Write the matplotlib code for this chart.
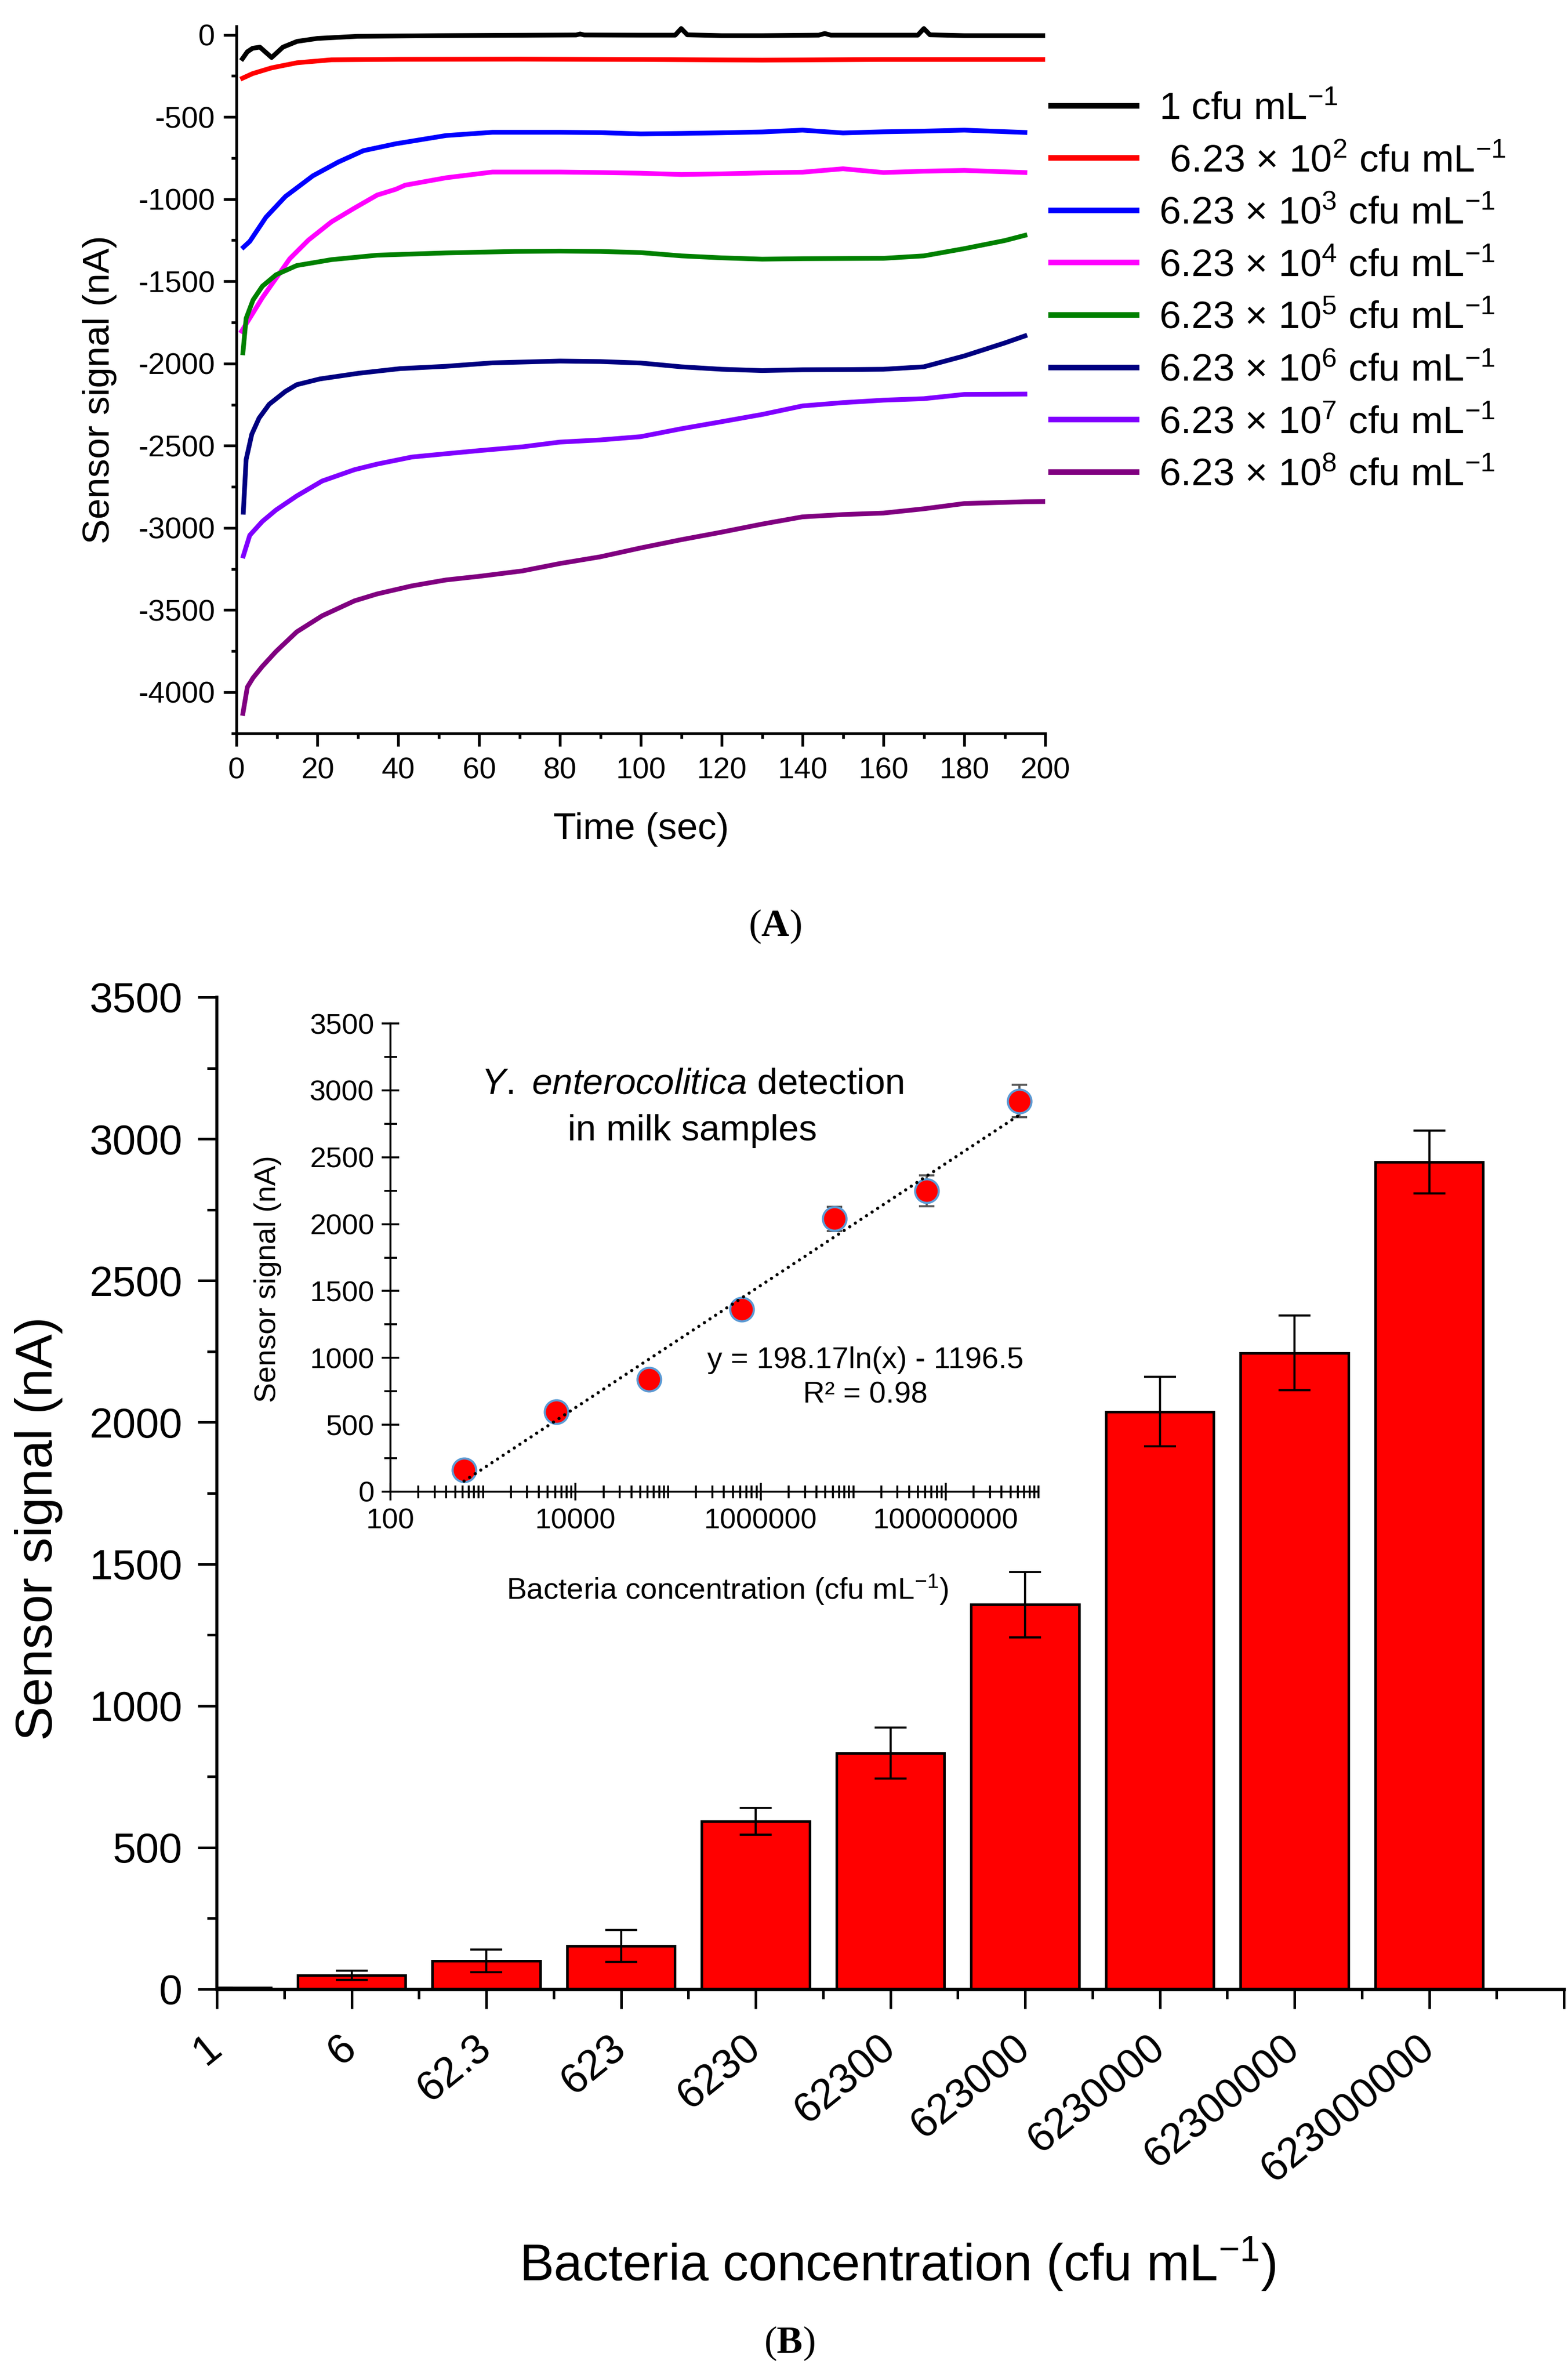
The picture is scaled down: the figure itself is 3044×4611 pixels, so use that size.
import numpy as np
import matplotlib
matplotlib.use('Agg')
import matplotlib.pyplot as plt
from matplotlib.lines import Line2D
from matplotlib.ticker import MultipleLocator, FixedLocator, LogLocator, NullFormatter, FuncFormatter

plt.rcParams['font.family'] = ['Liberation Sans', 'DejaVu Sans']
plt.rcParams['axes.unicode_minus'] = False
plt.rcParams['mathtext.fontset'] = 'custom'
plt.rcParams['mathtext.rm'] = 'Liberation Sans'
plt.rcParams['mathtext.it'] = 'Liberation Sans:italic'
plt.rcParams['mathtext.bf'] = 'Liberation Serif:bold'

# --- datos panel A: señal vs tiempo ------------------------------------------
t_1 = [1.5, 2.7, 4, 5.8, 8.7, 11.5, 15, 20, 30, 50, 84, 85, 86, 100, 108.5, 110, 111.5,
       120, 130, 144, 145.5, 147, 160, 168.5, 170, 171.5, 180, 200]
s_1 = [-145, -103, -82, -75, -138, -75, -40, -22, -9, -5, -1, 5, -1, -2, -2, 38, 0,
       -5, -5, -2, 8, -2, -2, -2, 38, 0, -5, -5]

t_2 = [1.5, 4, 8.7, 15, 23.5, 40, 70, 100, 130, 160, 200]
s_2 = [-264, -236, -201, -170, -152, -149, -148, -150, -154, -150, -150]

t_3 = [1.75, 3.3, 7.3, 12.1, 18.9, 25.2, 31.4, 39.4, 51.8, 63.3, 80, 90, 100, 110, 120,
       130, 140, 150, 160, 170, 180, 195]
s_3 = [-1292, -1257, -1110, -984, -858, -774, -705, -663, -613, -593, -593, -595, -603,
       -600, -596, -591, -580, -597, -590, -586, -580, -594]

t_4 = [1.3, 3.6, 6.4, 9.8, 13.2, 17.8, 23.5, 29.2, 34.8, 39.4, 41.7, 51.8, 63.3, 80, 90,
       100, 110, 120, 130, 140, 150, 160, 170, 180, 195]
s_4 = [-1803, -1712, -1600, -1481, -1362, -1249, -1138, -1054, -975, -940, -915, -870,
       -835, -835, -838, -842, -850, -846, -840, -836, -815, -838, -830, -825, -838]

t_5 = [1.6, 2.4, 4.1, 6.4, 9.8, 14.9, 23.5, 34.8, 51.8, 68.9, 80, 90, 100, 110, 120, 130,
       140, 150, 160, 170, 180, 190, 195]
s_5 = [-1935, -1725, -1614, -1530, -1460, -1404, -1368, -1341, -1327, -1318, -1316, -1318,
       -1325, -1345, -1357, -1365, -1362, -1361, -1360, -1345, -1301, -1252, -1220]

t_6 = [1.7, 2.4, 3.8, 5.6, 8.1, 12.1, 14.9, 20.6, 30.3, 40.5, 51.8, 63.3, 80, 90, 100,
       110, 120, 130, 140, 150, 160, 170, 180, 190, 195]
s_6 = [-2905, -2584, -2430, -2332, -2248, -2170, -2129, -2094, -2059, -2031, -2017, -1996,
       -1985, -1988, -1997, -2020, -2035, -2043, -2038, -2037, -2035, -2020, -1954, -1875, -1832]

t_7 = [1.7, 3.3, 6.4, 9.8, 14.9, 21.2, 29.2, 34.8, 43.4, 51.8, 60, 70.7, 80, 90, 100, 110,
       120, 130, 140, 150, 160, 170, 180, 195]
s_7 = [-3171, -3045, -2961, -2891, -2806, -2715, -2646, -2612, -2569, -2549, -2530, -2507,
       -2478, -2465, -2445, -2397, -2354, -2310, -2258, -2238, -2223, -2214, -2188, -2186]

t_8 = [1.6, 2.7, 4.1, 6.4, 9.8, 14.9, 21.2, 29.2, 34.8, 43.4, 51.8, 60, 70.7, 80, 90, 100,
       110, 120, 130, 140, 150, 160, 170, 180, 195, 200]
s_8 = [-4129, -3969, -3913, -3843, -3752, -3633, -3535, -3444, -3402, -3353, -3317, -3295,
       -3262, -3217, -3176, -3122, -3072, -3026, -2977, -2933, -2919, -2910, -2884, -2852,
       -2841, -2840]

series_t = [t_1, t_2, t_3, t_4, t_5, t_6, t_7, t_8]
series_s = [s_1, s_2, s_3, s_4, s_5, s_6, s_7, s_8]
series_colors = ['#000000', '#FF0000', '#0000FF', '#FF00FF', '#008000', '#000080', '#8000FF', '#800080']
series_labels = ['1 cfu mL$^{-1}$',
                 ' 6.23 × 10$^{2}$ cfu mL$^{-1}$',
                 '6.23 × 10$^{3}$ cfu mL$^{-1}$',
                 '6.23 × 10$^{4}$ cfu mL$^{-1}$',
                 '6.23 × 10$^{5}$ cfu mL$^{-1}$',
                 '6.23 × 10$^{6}$ cfu mL$^{-1}$',
                 '6.23 × 10$^{7}$ cfu mL$^{-1}$',
                 '6.23 × 10$^{8}$ cfu mL$^{-1}$']

# --- datos panel B: barras ---------------------------------------------------
bar_labels = ['1', '6', '62.3', '623', '6230', '62300', '623000', '6230000', '62300000', '623000000']
bar_values = [5, 49, 100, 153, 592, 833, 1357, 2038, 2245, 2918]
bar_errors = [0, 17, 40, 56, 47, 90, 115, 122, 132, 111]

# --- datos inset (escala log) ------------------------------------------------
inset_conc = [623, 6230, 62300, 623000, 6230000, 62300000, 623000000]
inset_signal = [160, 598, 840, 1362, 2040, 2248, 2920]
inset_err = [40, 40, 40, 60, 90, 115, 120]
fit_slope, fit_icpt = 198.17, -1196.5

W, H, DPI = 3044, 4611, 300
fig = plt.figure(figsize=(W / DPI, H / DPI), dpi=DPI)


def box(l, t, r, b):
    return [l / W, 1 - b / H, (r - l) / W, (b - t) / H]


# --- panel A -----------------------------------------------------------------
ax1 = fig.add_axes(box(459, 51, 2029, 1424))
for t, s, c in zip(series_t, series_s, series_colors):
    ax1.plot(t, s, color=c, lw=2.2, solid_joinstyle='round')
ax1.set_xlim(0, 200)
ax1.set_ylim(-4251, 52)
ax1.spines['top'].set_visible(False)
ax1.spines['right'].set_visible(False)
ax1.spines['left'].set_linewidth(1.3)
ax1.spines['bottom'].set_linewidth(1.3)
ax1.xaxis.set_major_locator(MultipleLocator(20))
ax1.xaxis.set_minor_locator(MultipleLocator(10))
ax1.yaxis.set_major_locator(MultipleLocator(500))
ax1.yaxis.set_minor_locator(MultipleLocator(250))
ax1.tick_params(which='major', direction='out', length=6, width=1.3, labelsize=14)
ax1.tick_params(which='minor', direction='out', length=2.5, width=1.3)
ax1.tick_params(axis='x', which='major', pad=5)
ax1.tick_params(axis='y', which='major', pad=4)
ax1.set_xlabel('Time (sec)', fontsize=17.5)
ax1.set_ylabel('Sensor signal (nA)', fontsize=17.5)
ax1.xaxis.set_label_coords(0.5006, (1424 - 1610) / 1373)
ax1.xaxis.label.set_va('center')
ax1.yaxis.set_label_coords((193 - 459) / 1570, (1424 - 756) / 1373)
ax1.yaxis.label.set_va('center')

# leyenda dibujada a mano
for i, (lab, c) in enumerate(zip(series_labels, series_colors)):
    yr = 204.5 + 101.6 * i
    fig.add_artist(Line2D([2040 / W, 2206 / W], [1 - yr / H, 1 - yr / H], color=c, lw=2.6))
    fig.text(2250 / W, 1 - (yr + 27) / H, lab, fontsize=18, va='baseline', ha='left')

fig.text(1504 / W, 1 - 1799 / H, r'($\mathbf{A}$)', fontsize=18, family='Liberation Serif',
         ha='center', va='center')

# --- panel B -----------------------------------------------------------------
ax2 = fig.add_axes(box(421, 1936, 3036, 3862))
pos = np.arange(len(bar_labels))
ax2.bar(pos, bar_values, width=0.8, color='#FF0000', edgecolor='black', linewidth=1.2,
        yerr=bar_errors, error_kw=dict(ecolor='black', elinewidth=1.0, capsize=7.5, capthick=1.0))
ax2.set_xlim(0, 10)
ax2.set_ylim(0, 3500)
ax2.spines['top'].set_visible(False)
ax2.spines['right'].set_visible(False)
ax2.spines['left'].set_linewidth(1.4)
ax2.spines['bottom'].set_linewidth(1.6)
ax2.xaxis.set_major_locator(FixedLocator(np.arange(11)))
ax2.xaxis.set_minor_locator(FixedLocator(np.arange(10) + 0.5))
ax2.set_xticklabels(bar_labels + [''])
ax2.yaxis.set_major_locator(MultipleLocator(500))
ax2.yaxis.set_minor_locator(MultipleLocator(250))
ax2.tick_params(which='major', direction='out', length=9, width=1.2, labelsize=19.5)
ax2.tick_params(which='minor', direction='out', length=4.5, width=1.2)
ax2.tick_params(axis='y', which='major', pad=7)
ax2.tick_params(axis='x', which='major', pad=16)
for lab in ax2.get_xticklabels():
    lab.set_rotation(39)
    lab.set_ha('right')
    lab.set_va('center')
    lab.set_rotation_mode('anchor')
ax2.set_ylabel('Sensor signal (nA)', fontsize=24)
ax2.set_xlabel('Bacteria concentration (cfu mL$^{-1}$)', fontsize=24)
ax2.yaxis.set_label_coords((75 - 421) / 2615, (3862 - 2968) / 1926)
ax2.yaxis.label.set_va('center')
ax2.xaxis.set_label_coords((1742 - 421) / 2615, (3862 - 4395) / 1926)
ax2.xaxis.label.set_va('center')

fig.text(1532 / W, 1 - 4550 / H, r'($\mathbf{B}$)', fontsize=18, family='Liberation Serif',
         ha='center', va='center')

# --- inset -------------------------------------------------------------------
ax3 = fig.add_axes(box(758, 1987, 2016, 2896))
ax3.errorbar(inset_conc, inset_signal, yerr=inset_err, fmt='none', ecolor='#595959',
             elinewidth=1.0, capsize=3.5, capthick=1.0, zorder=2)
ax3.plot(inset_conc, inset_signal, 'o', ms=11, mfc='#FF0000', mec='#5B9BD5', mew=1.0, zorder=3)
xx = np.logspace(np.log10(inset_conc[0]), np.log10(inset_conc[-1]), 200)
ax3.plot(xx, fit_slope * np.log(xx) + fit_icpt, color='black', lw=1.5,
         linestyle=(0, (0.01, 2.07)), dash_capstyle='round', zorder=4)
ax3.set_xscale('log')
ax3.set_xlim(100, 1e9)
ax3.set_ylim(0, 3500)
ax3.spines['top'].set_visible(False)
ax3.spines['right'].set_visible(False)
ax3.spines['left'].set_linewidth(0.9)
ax3.spines['bottom'].set_linewidth(0.9)
ax3.xaxis.set_major_locator(FixedLocator([1e2, 1e4, 1e6, 1e8]))
ax3.xaxis.set_major_formatter(FuncFormatter(lambda v, p: f'{v:.0f}'))
ax3.xaxis.set_minor_locator(LogLocator(base=10, subs=np.arange(1, 10), numticks=30))
ax3.xaxis.set_minor_formatter(NullFormatter())
ax3.yaxis.set_major_locator(MultipleLocator(500))
ax3.yaxis.set_minor_locator(MultipleLocator(250))
ax3.tick_params(which='major', direction='inout', length=8, width=0.9, labelsize=13.5)
ax3.tick_params(which='minor', direction='inout', length=6, width=0.9)
ax3.set_ylabel('Sensor signal (nA)', fontsize=14)
ax3.set_xlabel('Bacteria concentration (cfu mL$^{-1}$)', fontsize=14)
ax3.yaxis.set_label_coords((520 - 758) / 1258, (2896 - 2483) / 909)
ax3.yaxis.label.set_va('center')
ax3.xaxis.set_label_coords((1412 - 758) / 1258, (2896 - 3085) / 909)
ax3.xaxis.label.set_va('center')

fig.text(1344 / W, 1 - 2105 / H, r'$\mathit{Y.}$ $\mathit{enterocolitica}$ detection', fontsize=17,
         ha='center', va='center')
fig.text(1344 / W, 1 - 2196 / H, 'in milk samples', fontsize=17, ha='center', va='center')
fig.text(1680 / W, 1 - 2641 / H, 'y = 198.17ln(x) - 1196.5', fontsize=14, ha='center', va='center')
fig.text(1680 / W, 1 - 2708 / H, 'R² = 0.98', fontsize=14, ha='center', va='center')

fig.savefig('out.png', dpi=DPI)
